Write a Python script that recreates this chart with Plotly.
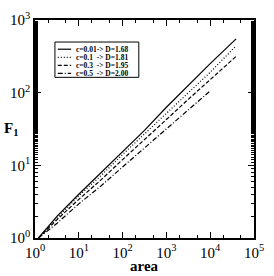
import plotly.graph_objects as go

# data (area, F1)
area_a = [1.2, 3.2, 10, 32, 100, 316, 1000, 3160, 10000, 39000]
f1_a   = [1.0, 2.0, 4.0, 7.9, 15.8, 30.2, 63, 126, 251, 550]

area_b = [1.2, 3.2, 10, 32, 100, 316, 1000, 3160, 10000, 37000]
f1_b   = [1.0, 1.9, 3.8, 7.2, 14.1, 26.9, 52, 100, 191, 427]

area_c = [1.2, 3.2, 10, 32, 100, 316, 1000, 3160, 10000, 39000]
f1_c   = [1.0, 1.8, 3.4, 6.3, 12.0, 22.4, 42.7, 81, 151, 316]

area_d = [1.2, 3.2, 10, 32, 100, 316, 1000, 3160, 9500]
f1_d   = [1.0, 1.6, 2.95, 5.2, 9.5, 17.4, 31.6, 58, 103]

names = ["c=0.01-> D=1.68", "c=0.1  -> D=1.81", "c=0.3  -> D=1.95", "c=0.5  -> D=2.00"]
dashes = ["solid", "1px,2px", "4px,2px", "5px,2px,1px,2px"]

tick_vals = [1, 10, 100, 1000, 10000, 100000]
xtick_text = ["10<sup>0</sup>", "10<sup>1</sup>", "10<sup>2</sup>", "10<sup>3</sup>", "10<sup>4</sup>", "10<sup>5</sup>"]
ytick_vals = [1, 10, 100, 1000]
ytick_text = ["10<sup>0</sup>", "10<sup>1</sup>", "10<sup>2</sup>", "10<sup>3</sup>"]

fig = go.Figure()
for xs, ys, nm, ds in zip([area_a, area_b, area_c, area_d], [f1_a, f1_b, f1_c, f1_d], names, dashes):
    fig.add_trace(go.Scatter(x=xs, y=ys, mode="lines", name=nm, showlegend=False,
                             line=dict(color="black", width=1.2, dash=ds)))

axis_common = dict(type="log", showgrid=False, zeroline=False, showline=True,
                   linecolor="black", linewidth=1.5, mirror="allticks",
                   ticks="inside", ticklen=6, tickcolor="black",
                   minor=dict(ticks="inside", ticklen=3, tickcolor="black", showgrid=False),
                   tickfont=dict(family="Liberation Serif", size=15, color="black"))

fig.update_xaxes(range=[0, 5], tickvals=tick_vals, ticktext=xtick_text, **axis_common)
fig.update_yaxes(range=[0, 3], tickvals=ytick_vals, ticktext=ytick_text, **axis_common)

fig.add_annotation(text="<b>area</b>", xref="paper", yref="paper", x=0.5, y=-0.127,
                   xanchor="center", yanchor="middle", showarrow=False,
                   font=dict(family="Liberation Serif", size=15, color="black"))
fig.add_annotation(text="<b>F<sub>1</sub></b>", xref="paper", yref="paper", x=-0.11, y=0.5,
                   xanchor="center", yanchor="middle", showarrow=False,
                   font=dict(family="Liberation Serif", size=15, color="black"))

# manual legend (compact, like the reference)
lx0, lx1, ly0, ly1 = 0.091, 0.474, 0.737, 0.899
fig.add_shape(type="rect", xref="paper", yref="paper", x0=lx0, x1=lx1, y0=ly0, y1=ly1,
              line=dict(color="black", width=1), fillcolor="white", layer="above")
row_y = [0.866, 0.829, 0.792, 0.755]
for nm, ds, ry in zip(names, dashes, row_y):
    fig.add_shape(type="line", xref="paper", yref="paper", x0=0.104, x1=0.165, y0=ry, y1=ry,
                  line=dict(color="black", width=1.2, dash=ds), layer="above")
    fig.add_annotation(text="<b>" + nm.replace(" ", "&nbsp;") + "</b>", xref="paper", yref="paper",
                       x=0.178, y=ry, xanchor="left", yanchor="middle", showarrow=False,
                       font=dict(family="Liberation Serif", size=7.5, color="black"))

fig.update_layout(width=274, height=276, margin=dict(l=34, r=10, t=10, b=38),
                  plot_bgcolor="white", paper_bgcolor="white", showlegend=False)

fig.write_html("out.html", config={"displayModeBar": False},
               post_script="document.body.style.margin='0';")
